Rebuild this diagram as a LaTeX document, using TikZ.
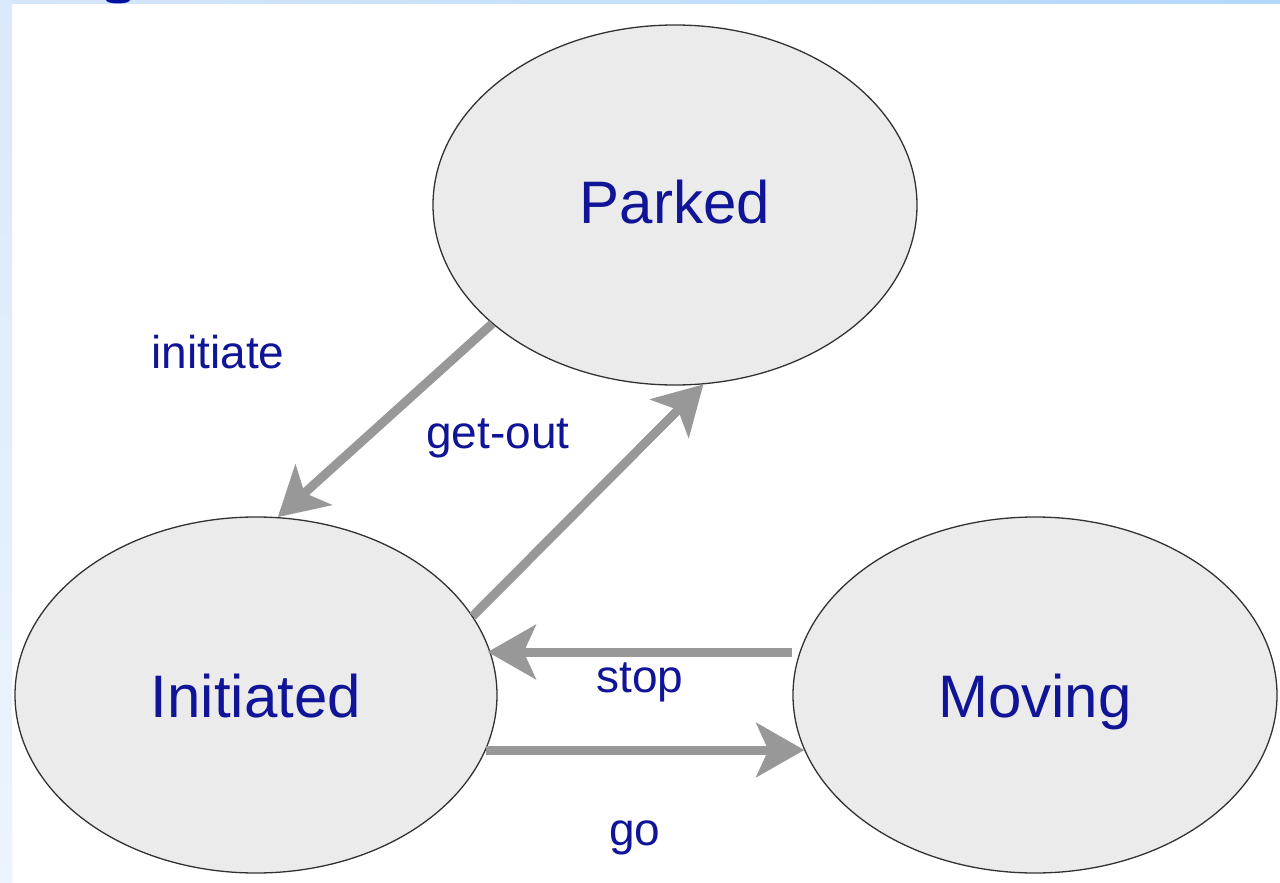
\documentclass[tikz,border=0pt]{standalone}
\usepackage{fontspec}
\setmainfont{Liberation Sans}
\usetikzlibrary{arrows.meta,shapes.geometric}

\definecolor{statefill}{RGB}{235,235,235}
\definecolor{stateline}{RGB}{50,50,50}
\definecolor{navytext}{RGB}{16,20,150}
\definecolor{arrowgray}{RGB}{152,152,152}
\definecolor{frameblue}{RGB}{214,230,250}
\definecolor{frameblueR}{RGB}{178,216,250}
\definecolor{titleblue}{RGB}{0,16,160}

\tikzset{
  state/.style={ellipse, draw=stateline, line width=1.3pt, fill=statefill,
    inner sep=0pt, minimum width=484pt, minimum height=356pt,
    text=navytext, font=\fontsize{60}{60}\selectfont,
    text height=44pt, text depth=0pt},
  edgelabel/.style={anchor=base, text=navytext, font=\fontsize{46}{46}\selectfont},
  transition/.style={draw=arrowgray, line width=9pt,
    -{Stealth[length=48pt, width=54pt, inset=12pt]}},
}

\begin{document}
\begin{tikzpicture}[x=1pt, y=-1pt]
  % page frame
  \useasboundingbox (0,0) rectangle (1280,883);
  \fill[white] (0,0) rectangle (1280,883);
  \shade[left color=frameblue, right color=frameblueR] (0,0) rectangle (1280,4);
  \shade[top color=frameblue!90!white, bottom color=frameblue!45!white] (0,0) rectangle (12,883);
  \fill[titleblue] (106,0) arc[start angle=180, end angle=360, x radius=12pt, y radius=3.5pt] -- cycle;

  % states
  \node[state, minimum height=360pt, text depth=8pt] (parked) at (675,205) {Parked};
  \node[state, minimum width=482pt] (initiated) at (256,695) {Initiated};
  \node[state] (moving) at (1035,695) {Moving};

  % transitions
  \draw[transition] (parked.213) -- (initiated.83.3);
  \draw[transition] (initiated.20) -- (parked.279.4);
  \draw[transition] ([yshift=43pt]moving.west) -- ([shift={(-10pt,43pt)}]initiated.east);
  \draw[transition] ([shift={(-12pt,-55pt)}]initiated.east) -- ([shift={(12pt,-55pt)}]moving.west);

  % transition labels
  \node[edgelabel] (lblinitiate) at (218,368) {initiate};
  \node[edgelabel] (lblgetout) at (498,448) {get-out};
  \node[edgelabel] (lblstop) at (640,692) {stop};
  \node[edgelabel] (lblgo) at (635,845) {go};
\end{tikzpicture}
\end{document}
